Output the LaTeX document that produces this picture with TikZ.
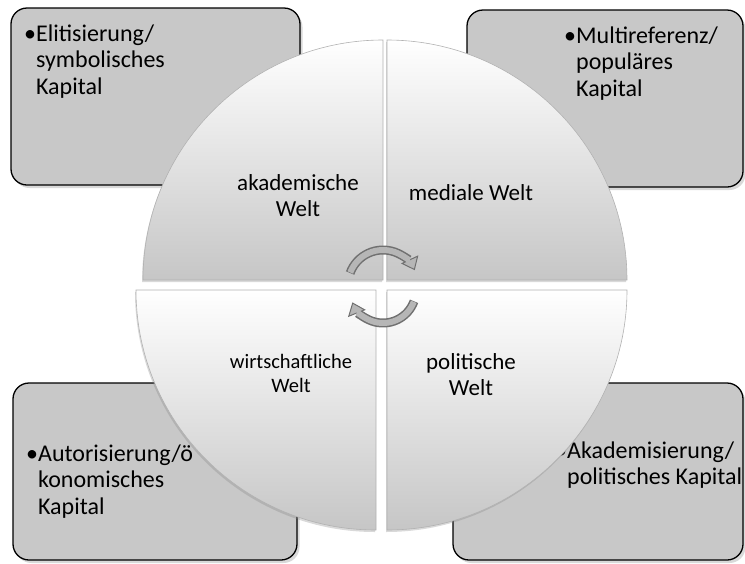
\documentclass[tikz,border=0pt]{standalone}
\usepackage{fontspec}
\setmainfont{Carlito}
\usetikzlibrary{arrows.meta}
\usetikzlibrary{shadows}
\definecolor{boxgray}{RGB}{200,200,200}
\definecolor{quadgray}{RGB}{198,198,198}
\definecolor{arrowout}{RGB}{112,112,112}
\definecolor{arrowin}{RGB}{182,182,182}
\newcommand{\createquad}[4]{\path[quadfill] (#1,#2) -- ++(#3:240) arc[start angle=#3, end angle=#4, radius=240] -- cycle;}
\newcommand{\bulletlist}[1]{\begin{tabular}[t]{@{}l@{}l@{}}#1\end{tabular}}
\newcommand{\worldlabel}[1]{\begin{tabular}[t]{@{}c@{}}#1\end{tabular}}

\begin{document}
\begin{tikzpicture}[x=1pt, y=-1pt,
    capbox/.style={draw=black, line width=1.3pt, fill=boxgray, rounded corners=16pt,
      drop shadow={shadow xshift=2.5pt, shadow yshift=-3pt, opacity=0.3}},
    quadfill/.style={top color=white, bottom color=quadgray, draw=gray!60, line width=0.6pt,
      drop shadow={shadow xshift=-1pt, shadow yshift=-2pt, opacity=0.3}},
    capstext/.style={inner sep=0pt, anchor=base west, font=\fontsize{24}{26.5}\selectfont},
    worldtext/.style={inner sep=0pt, anchor=base, font=\fontsize{23}{26}\selectfont},
    cyclearrow/.style={line width=9pt, draw=arrowout,
      -{Triangle[width=19pt, length=12pt, line width=1pt, fill=arrowin]}},
    cycleinner/.style={line width=6pt, draw=arrowin, shorten >=11pt}]
  \useasboundingbox (0,0) rectangle (745,563);
  % corner boxes
  \draw[capbox] (11,8) rectangle (300,185);
  \draw[capbox] (467,10) rectangle (743,187);
  \draw[capbox] (13,383) rectangle (297,560);
  \draw[capbox] (453,383) rectangle (743,560);
  \node[capstext] (elite) at (24,41) {\bulletlist{•&Elitisierung/\\&symbolisches\\&Kapital}};
  \node[capstext] (multi) at (564,43) {\bulletlist{•&Multireferenz/\\&populäres\\&Kapital}};
  \node[capstext] (autor) at (26,461) {\bulletlist{•&Autorisierung/ö\\&konomisches\\&Kapital}};
  \node[capstext] (akadem) at (555,458) {\bulletlist{•&Akademisierung/\\&politisches Kapital}};
  % four worlds
  \createquad{383}{280}{180}{270}
  \createquad{387}{280}{270}{360}
  \createquad{376}{290}{90}{180}
  \createquad{387}{290}{0}{90}
  \node[worldtext] (akad) at (298,190) {\worldlabel{akademische\\Welt}};
  \node[worldtext] (medi) at (471,200) {mediale Welt};
  \node[worldtext, font=\fontsize{20.5}{24}\selectfont] (wirt) at (291,368) {\worldlabel{wirtschaftliche\\Welt}};
  \node[worldtext] (poli) at (471,369) {\worldlabel{politische\\Welt}};
  % cycle arrows
  \coordinate (hubtop) at (383,285);
  \coordinate (hubbot) at (383,290);
  \draw[cyclearrow] ([shift={(200:35)}]hubtop) arc[start angle=200, end angle=335, radius=35];
  \draw[cycleinner] ([shift={(201:35)}]hubtop) arc[start angle=201, end angle=335, radius=35];
  \draw[cyclearrow] ([shift={(20:33)}]hubbot) arc[start angle=20, end angle=158, radius=33];
  \draw[cycleinner] ([shift={(21:33)}]hubbot) arc[start angle=21, end angle=158, radius=33];
\end{tikzpicture}
\end{document}
